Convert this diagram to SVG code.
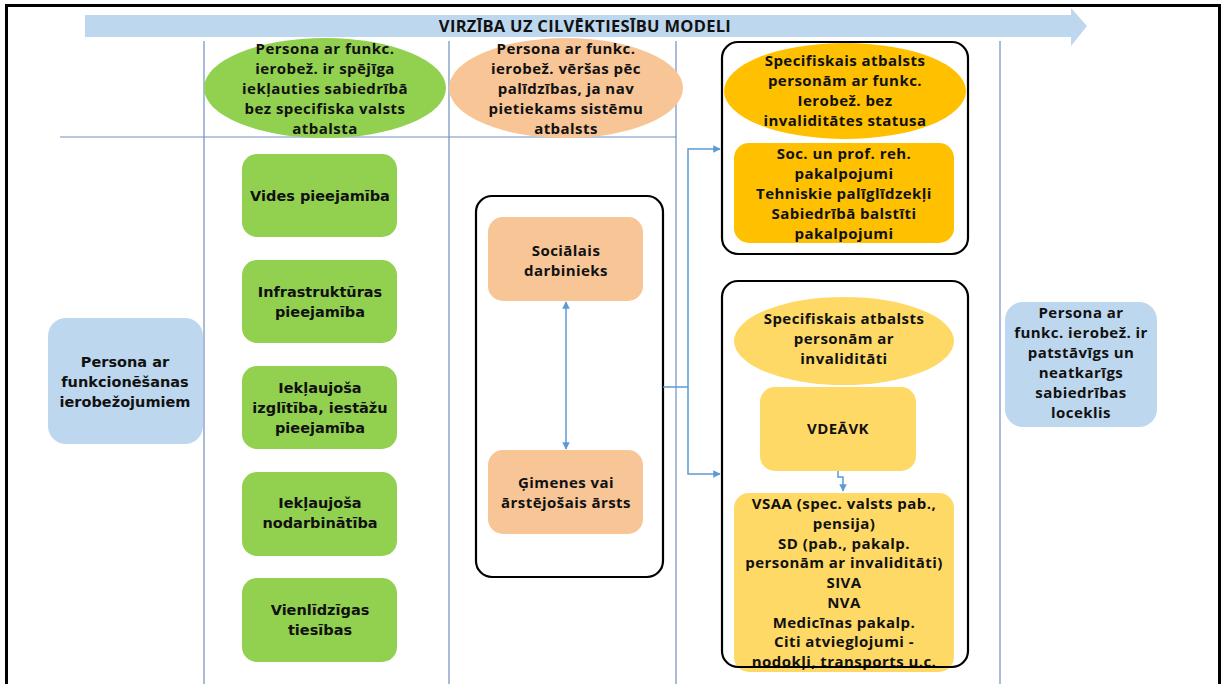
<svg xmlns="http://www.w3.org/2000/svg" width="1225" height="684" viewBox="0 0 1225 684">
<defs>
<style>
.t{font-family:"Open Sans","DejaVu Sans",sans-serif;font-weight:bold;font-size:15px;letter-spacing:0.45px;fill:#111;text-anchor:middle}
.w{font-family:"DejaVu Sans","Open Sans",sans-serif;font-weight:bold;font-size:14.5px;fill:#111;text-anchor:middle}
.grid{stroke:#6f8fbf;stroke-width:1.2;fill:none}
.con{stroke:#5b9bd5;stroke-width:1.5;fill:none}
.frame{stroke:#000;stroke-width:2.2;fill:none}
.green{fill:#92d050}
.blue{fill:#bdd7ee}
.peach{fill:#f8c597}
.gold{fill:#ffc000}
.yel{fill:#ffd966}
</style>
<marker id="ah" viewBox="0 0 10 10" refX="9" refY="5" markerWidth="5" markerHeight="5" orient="auto-start-reverse">
<path d="M0,0 L10,5 L0,10 z" fill="#5b9bd5"/>
</marker>
</defs>
<rect x="0" y="0" width="1225" height="684" fill="#fff"/>
<rect x="6.5" y="5.5" width="1213" height="700" fill="none" stroke="#000" stroke-width="3"/>

<g id="banner">
<polygon points="85,15 1071,15 1071,8 1087,26 1071,46 1071,37 85,37" fill="#bdd7ee"/>
<text class="t" x="585" y="32" style="font-size:16.5px;letter-spacing:0.3px">VIRZĪBA UZ CILVĒKTIESĪBU MODELI</text>
</g>

<g id="grid">
<line class="grid" x1="204" y1="41" x2="204" y2="684"/>
<line class="grid" x1="449" y1="41" x2="449" y2="684"/>
<line class="grid" x1="676" y1="41" x2="676" y2="684"/>
<line class="grid" x1="1000" y1="41" x2="1000" y2="684"/>
<line class="grid" x1="60" y1="137" x2="676" y2="137"/>
</g>

<g id="ellipse-green">
<ellipse cx="325" cy="88" rx="121" ry="50" class="green"/>
<text class="t" x="325" y="54">Persona ar funkc.</text>
<text class="t" x="325" y="74">ierobež. ir spējīga</text>
<text class="t" x="325" y="94">iekļauties sabiedrībā</text>
<text class="t" x="325" y="114">bez specifiska valsts</text>
<text class="t" x="325" y="134">atbalsta</text>
</g>

<g id="ellipse-peach">
<ellipse cx="566" cy="88" rx="117" ry="50" class="peach"/>
<text class="t" x="566" y="54">Persona ar funkc.</text>
<text class="t" x="566" y="74">ierobež. vēršas pēc</text>
<text class="t" x="566" y="94">palīdzības, ja nav</text>
<text class="t" x="566" y="114">pietiekams sistēmu</text>
<text class="t" x="566" y="134">atbalsts</text>
</g>

<g id="left-person">
<rect x="48" y="318" width="155" height="126" rx="18" class="blue"/>
<text class="w" x="125" y="367">Persona ar</text>
<text class="w" x="125" y="387">funkcionēšanas</text>
<text class="w" x="125" y="407">ierobežojumiem</text>
</g>

<g id="g1">
<rect x="242" y="154" width="155" height="83" rx="15" class="green"/>
<text class="w" x="320" y="201">Vides pieejamība</text>
</g>
<g id="g2">
<rect x="242" y="260" width="155" height="83" rx="15" class="green"/>
<text class="w" x="320" y="297">Infrastruktūras</text>
<text class="w" x="320" y="317">pieejamība</text>
</g>
<g id="g3">
<rect x="242" y="366" width="155" height="83" rx="15" class="green"/>
<text class="w" x="320" y="393">Iekļaujoša</text>
<text class="w" x="320" y="413">izglītība, iestāžu</text>
<text class="w" x="320" y="433">pieejamība</text>
</g>
<g id="g4">
<rect x="242" y="472" width="155" height="84" rx="15" class="green"/>
<text class="w" x="320" y="508">Iekļaujoša</text>
<text class="w" x="320" y="528">nodarbinātība</text>
</g>
<g id="g5">
<rect x="242" y="578" width="155" height="84" rx="15" class="green"/>
<text class="w" x="320" y="615">Vienlīdzīgas</text>
<text class="w" x="320" y="635">tiesības</text>
</g>

<g id="middle-box">
<rect x="476" y="196" width="187" height="381" rx="16" class="frame"/>
</g>
<g id="social-worker">
<rect x="488" y="217" width="155" height="84" rx="15" class="peach"/>
<text class="t" x="566" y="256">Sociālais</text>
<text class="t" x="566" y="276">darbinieks</text>
</g>
<g id="doctor">
<rect x="488" y="450" width="155" height="84" rx="15" class="peach"/>
<text class="t" x="566" y="488">Ģimenes vai</text>
<text class="t" x="566" y="508">ārstējošais ārsts</text>
</g>

<g id="right-top">
<rect x="722" y="42" width="246" height="212" rx="16" class="frame"/>
<ellipse cx="845" cy="91" rx="121" ry="48" class="gold"/>
<text class="t" x="845" y="66">Specifiskais atbalsts</text>
<text class="t" x="845" y="86">personām ar funkc.</text>
<text class="t" x="845" y="106">Ierobež. bez</text>
<text class="t" x="845" y="126">invaliditātes statusa</text>
</g>
<g id="rehab">
<rect x="734" y="143" width="220" height="100" rx="15" class="gold"/>
<text class="t" x="844" y="159">Soc. un prof. reh.</text>
<text class="t" x="844" y="179">pakalpojumi</text>
<text class="t" x="844" y="199">Tehniskie palīglīdzekļi</text>
<text class="t" x="844" y="219">Sabiedrībā balstīti</text>
<text class="t" x="844" y="239">pakalpojumi</text>
</g>

<g id="right-bottom-head">
<ellipse cx="844" cy="341" rx="110" ry="44" class="yel"/>
<text class="t" x="844" y="324">Specifiskais atbalsts</text>
<text class="t" x="844" y="344">personām ar</text>
<text class="t" x="844" y="364">invaliditāti</text>
</g>
<g id="vdeavk">
<rect x="760" y="387" width="156" height="84" rx="15" class="yel"/>
<text class="t" x="838" y="434">VDEĀVK</text>
</g>
<g id="vsaa">
<rect x="734" y="493" width="220" height="179" rx="15" class="yel"/>
<text class="t" x="844" y="509">VSAA (spec. valsts pab.,</text>
<text class="t" x="844" y="528.75">pensija)</text>
<text class="t" x="844" y="548.5">SD (pab., pakalp.</text>
<text class="t" x="844" y="568.25">personām ar invaliditāti)</text>
<text class="t" x="844" y="588">SIVA</text>
<text class="t" x="844" y="607.75">NVA</text>
<text class="t" x="844" y="627.5">Medicīnas pakalp.</text>
<text class="t" x="844" y="647.25">Citi atvieglojumi -</text>
<text class="t" x="844" y="667">nodokļi, transports u.c.</text>
</g>
<g id="right-bottom">
<rect x="722" y="281" width="246" height="386" rx="16" class="frame"/>
</g>

<g id="right-person">
<rect x="1005" y="302" width="152" height="125" rx="18" class="blue"/>
<text class="t" x="1081" y="318">Persona ar</text>
<text class="t" x="1081" y="338">funkc. ierobež. ir</text>
<text class="t" x="1081" y="358">patstāvīgs un</text>
<text class="t" x="1081" y="378">neatkarīgs</text>
<text class="t" x="1081" y="398">sabiedrības</text>
<text class="t" x="1081" y="418">loceklis</text>
</g>

<g id="connectors">
<line class="con" x1="566" y1="302" x2="566" y2="449" marker-start="url(#ah)" marker-end="url(#ah)"/>
<polyline class="con" points="663,387 688,387 688,149 720,149" marker-end="url(#ah)"/>
<polyline class="con" points="688,387 688,474 720,474" marker-end="url(#ah)"/>
<polyline class="con" points="838,471 838,477 843,477 843,491" marker-end="url(#ah)"/>
</g>
</svg>
